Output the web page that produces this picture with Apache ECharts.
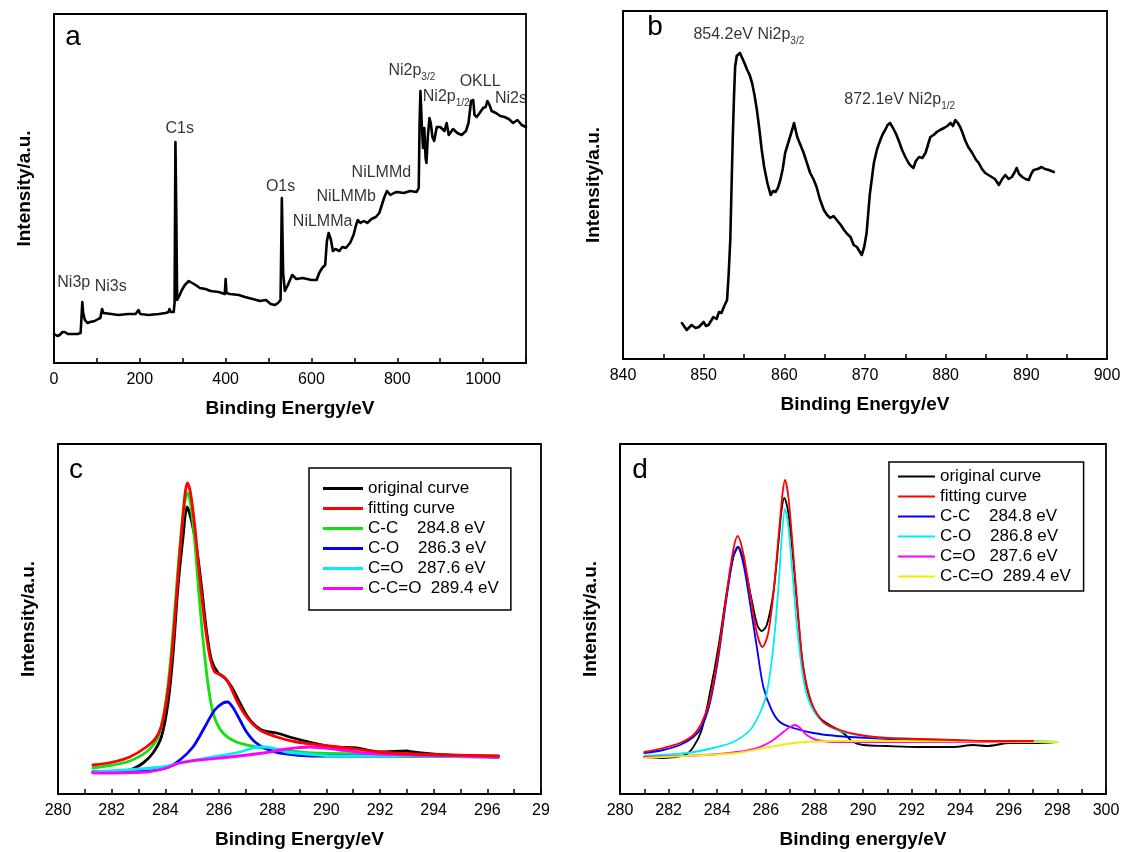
<!DOCTYPE html>
<html>
<head>
<meta charset="utf-8">
<script src="https://cdn.jsdelivr.net/npm/echarts@6/dist/echarts.min.js"></script>
<style>
  html, body { margin: 0; background: #fff; }
  #chart { width: 1122px; height: 852px; }
</style>
</head>
<body>
<div id="chart"></div>
<script>
const FONT = '"Liberation Sans", Arial, Helvetica, sans-serif';

// a: XPS survey, [binding energy eV, intensity a.u.]
const surveySpectrum = [
  [0,29],[8,27],[13,28],[20,31],[25,31],[32,29],[41,29],[55,29],[62,30],[64,45],[66,61],[68,50],[72,43],
  [78,40],[84,41],[95,42],[103,44],[108,45],[112,54],[115,50],[119,48],[134,49],[150,48],[173,49],[190,49],
  [197,53],[201,49],[220,48],[244,49],[260,50],[267,51],[269,54],[272,51],[279,51],[281,60],[283,221],
  [285,150],[287,63],[289,65],[293,68],[298,73],[305,78],[314,82],[322,80],[330,78],[340,75],[353,74],
  [365,72],[384,71],[398,69],[400,84],[402,70],[410,69],[431,68],[445,66],[463,64],[480,62],[494,63],
  [505,59],[515,58],[522,60],[525,61],[528,63],[531,165],[534,90],[538,72],[545,78],[555,88],[565,84],
  [580,85],[600,83],[612,83],[618,90],[625,95],[632,98],[636,122],[640,130],[645,124],[650,112],[656,114],
  [665,112],[672,116],[680,115],[690,120],[698,128],[704,138],[708,143],[714,140],[722,142],[730,140],
  [740,144],[750,146],[758,150],[764,158],[770,166],[776,172],[784,168],[792,170],[800,171],[815,170],
  [830,172],[845,171],[850,175],[852,240],[854,272],[857,240],[860,215],[863,235],[866,205],[868,200],
  [871,225],[875,245],[878,240],[882,226],[886,222],[892,236],[900,236],[910,232],[915,240],[920,228],
  [930,234],[940,230],[950,228],[960,232],[966,240],[972,262],[977,263],[980,248],[985,246],[992,250],
  [1000,255],[1006,256],[1010,262],[1015,258],[1020,252],[1030,250],[1040,247],[1050,246],[1060,244],
  [1070,240],[1080,243],[1090,238],[1100,236]
];
const surveyLabels = [
  ['Ni3p', 46, 80], ['Ni3s', 132, 76], ['C1s', 293, 234], ['O1s', 528, 176],
  ['NiLMMa', 626, 141], ['NiLMMb', 681, 166], ['NiLMMd', 763, 190],
  ['Ni2p_3/2', 834, 292], ['Ni2p_1/2', 914, 266], ['OKLL', 993, 281], ['Ni2s', 1065, 264]
];

// b: Ni 2p
const ni2pSpectrum = [
  [847.3,36],[847.9,29],[848.5,34],[849.0,31],[849.4,32],[850.0,37],[850.3,33],[850.6,34],[851.2,42],
  [851.6,40],[851.9,47],[852.2,46],[852.5,52],[852.9,59],[853.1,85],[853.3,119],[853.45,170],[853.6,219],
  [853.75,260],[853.9,292],[854.1,303],[854.3,305],[854.5,306],[854.7,304],[855.0,297],[855.4,289],
  [855.7,284],[856.0,276],[856.3,264],[856.6,249],[856.9,230],[857.2,209],[857.5,192],[857.9,176],
  [858.3,164],[858.6,168],[858.9,167],[859.2,171],[859.5,179],[859.8,190],[860.1,206],[860.4,214],
  [860.7,222],[861.0,230],[861.2,236],[861.4,229],[861.6,222],[862.0,214],[862.4,206],[862.8,196],
  [863.2,186],[863.6,180],[864.0,172],[864.4,160],[864.9,149],[865.3,144],[865.7,141],[866.1,143],
  [866.5,139],[867.0,134],[867.4,129],[867.8,125],[868.2,122],[868.6,114],[869.0,112],[869.3,108],
  [869.6,104],[869.9,112],[870.2,126],[870.6,165],[871.1,196],[871.5,210],[871.9,219],[872.2,225],
  [872.5,229],[872.8,234],[873.1,236],[873.4,232],[873.8,226],[874.2,218],[874.6,209],[875.0,202],
  [875.4,196],[875.7,193],[876.0,191],[876.3,198],[876.7,202],[877.1,201],[877.5,206],[877.8,214],
  [878.1,222],[878.5,224],[878.9,227],[879.3,229],[879.8,231],[880.2,233],[880.6,236],[880.9,233],
  [881.2,239],[881.5,236],[881.8,232],[882.1,226],[882.4,219],[882.8,212],[883.3,206],[883.7,200],
  [884.1,196],[884.5,190],[884.9,186],[885.3,184],[885.7,182],[886.1,180],[886.6,174],[887.0,180],
  [887.4,184],[887.8,180],[888.2,182],[888.5,186],[888.8,191],[889.1,185],[889.5,182],[889.9,180],
  [890.3,179],[890.6,185],[890.9,189],[891.4,190],[891.9,192],[892.3,190],[892.8,189],[893.4,187]
];
const ni2pLabels = [
  ['854.2eV Ni2p_3/2', 855.6, 324],
  ['872.1eV Ni2p_1/2', 874.3, 259]
];

// c: C 1s fit
const c1sNames = ['original curve', 'fitting curve', 'C-C    284.8 eV', 'C-O    286.3 eV', 'C=O   287.6 eV', 'C-C=O  289.4 eV'];
const c1sColors = ['#000000', '#ff0000', '#11e011', '#0000ff', '#00eef0', '#ff00ff'];
const c1sOriginal = [
  [281.3,22],[282.0,22],[282.67,24],[283.17,31],[283.54,41],[283.85,57],[284.10,91],[284.29,141],
  [284.47,207],[284.66,257],[284.81,287],[284.97,274],[285.16,247],[285.35,207],[285.53,164],[285.72,134],
  [285.97,121],[286.22,116],[286.47,107],[286.78,91],[287.15,74],[287.59,64],[288.15,61],[288.77,56],
  [289.51,51],[290.26,47],[291.13,46],[292.0,42],[293.0,43],[293.24,42],[294.49,39],[295.73,38],[296.41,37]
];
const c1sFit = [
  [281.3,29],[282.05,32],[282.67,37],[283.29,47],[283.67,57],[283.91,74],[284.16,117],[284.35,174],
  [284.54,241],[284.72,297],[284.82,311],[284.94,301],[285.10,267],[285.28,217],[285.47,171],[285.66,137],
  [285.84,122],[286.09,119],[286.34,112],[286.65,94],[287.03,77],[287.52,64],[288.15,57],[288.89,52],
  [289.76,49],[290.76,46],[292.0,42],[293.24,40],[294.49,39],[296.41,38]
];
const c1sCC = [
  [281.3,26],[282.05,29],[282.67,33],[283.29,42],[283.73,57],[283.97,84],[284.16,124],[284.35,184],
  [284.54,247],[284.72,291],[284.82,301],[284.94,291],[285.10,251],[285.28,191],[285.47,137],[285.66,97],
  [285.84,76],[286.15,61],[286.65,52],[287.40,47],[288.27,44],[289.51,41],[291.38,40],[293.24,39],[296.41,38]
];
const c1sCO = [
  [281.3,22],[283.29,23],[284.04,26],[284.54,34],[285.03,47],[285.47,67],[285.84,84],[286.15,91],
  [286.32,92],[286.53,86],[286.78,74],[287.03,62],[287.34,52],[287.77,45],[288.27,41],[289.51,38],
  [292.0,38],[296.41,37]
];
const c1sCdO = [
  [281.3,22],[283.91,27],[284.54,31],[285.78,37],[286.78,42],[287.27,46],[287.65,47],[288.02,46],
  [288.52,42],[289.26,40],[290.26,38],[293.24,38],[296.41,37]
];
const c1sCCdO = [
  [281.3,21],[283.29,22],[284.04,26],[284.54,31],[285.28,34],[286.40,37],[287.65,41],[288.52,45],
  [289.39,47],[290.26,45],[291.38,41],[293.24,39],[296.41,37]
];

// d: C 1s fit, second sample
const c1sBNames = ['original curve ', 'fitting curve ', 'C-C    284.8 eV ', 'C-O    286.8 eV', 'C=O   287.6 eV ', 'C-C=O  289.4 eV '];
const c1sBColors = ['#000000', '#ff0000', '#0000ff', '#00eef0', '#ff00ff', '#eeee00'];
const c1sBOriginal = [
  [281.0,37],[281.78,36],[282.67,39],[283.02,47],[283.36,64],[283.70,101],[284.05,147],[284.39,201],
  [284.66,237],[284.87,247],[285.14,227],[285.42,194],[285.65,169],[285.83,163],[286.04,169],[286.31,201],
  [286.52,251],[286.65,284],[286.76,296],[286.93,281],[287.13,234],[287.34,174],[287.54,127],[287.82,94],
  [288.23,76],[288.78,67],[289.19,61],[289.60,52],[290.01,49],[290.98,48],[292.35,47],[293.72,47],
  [294.54,49],[295.09,48],[296.05,51],[297.0,51],[297.97,52]
];
const c1sBFit = [
  [281.0,42],[281.78,46],[282.47,51],[283.02,59],[283.36,71],[283.70,94],[284.05,141],[284.39,201],
  [284.66,244],[284.84,258],[285.07,241],[285.35,201],[285.63,161],[285.86,147],[286.10,161],[286.34,207],
  [286.56,267],[286.69,301],[286.79,314],[286.93,297],[287.13,241],[287.34,177],[287.54,127],[287.89,91],
  [288.37,72],[289.05,64],[289.88,59],[290.98,56],[292.35,55],[293.72,54],[295.09,53],[297.0,53]
];
const c1sBCC = [
  [281.0,41],[281.78,44],[282.47,49],[283.02,57],[283.36,67],[283.70,91],[284.05,137],[284.39,197],
  [284.66,237],[284.84,247],[285.07,231],[285.35,191],[285.63,147],[285.90,107],[286.24,84],[286.58,72],
  [287.13,66],[287.95,61],[288.92,58],[290.29,56],[292.35,54],[295.09,53],[297.0,52]
];
const c1sBCO = [
  [281.0,38],[282.74,41],[283.84,46],[284.66,52],[285.35,64],[285.76,81],[286.04,101],[286.31,147],
  [286.52,207],[286.65,254],[286.79,285],[286.93,267],[287.13,211],[287.34,154],[287.61,107],[287.95,84],
  [288.50,69],[289.33,61],[290.42,57],[292.35,55],[295.09,53],[297.0,53],[298.0,52]
];
const c1sBCdO = [
  [281.0,37],[283.43,39],[284.80,42],[285.76,47],[286.31,54],[286.72,62],[287.0,67],[287.20,69],
  [287.41,66],[287.68,59],[288.09,54],[288.92,52],[290.98,52],[298.0,52]
];
const c1sBCCdO = [
  [281.0,36],[283.43,39],[284.80,41],[286.17,47],[287.13,51],[287.68,52],[288.92,53],[290.98,53],[298.0,52]
];

// layout, one entry per panel
const panels = [
  {left: 54, top: 14, width: 472, height: 349, min: 0, max: 1100, step: 200, xName: 'Binding Energy/eV', letter: 'a', lx: 73, ly: 37},
  {left: 623, top: 11, width: 484, height: 348, min: 840, max: 900, step: 10, xName: 'Binding Energy/eV', letter: 'b', lx: 655, ly: 27},
  {left: 58, top: 444, width: 483, height: 350, min: 280, max: 298, step: 2, xName: 'Binding Energy/eV', letter: 'c', lx: 76, ly: 470},
  {left: 620, top: 444, width: 486, height: 350, min: 280, max: 300, step: 2, xName: 'Binding energy/eV', letter: 'd', lx: 640, ly: 470}
];

const chart = echarts.init(document.getElementById('chart'), null, {renderer: 'canvas'});

const grids = panels.map(p => ({
  left: p.left, top: p.top, width: p.width, height: p.height,
  show: true, borderColor: '#000', borderWidth: 1.8, backgroundColor: 'transparent',
  containLabel: false, outerBoundsMode: 'none'
}));

const xAxes = panels.map((p, i) => ({
  type: 'value', gridIndex: i, min: p.min, max: p.max, interval: p.step,
  axisLine: {show: true, onZero: false, lineStyle: {color: '#000', width: 2}},
  axisTick: {show: true, inside: true, length: 5, lineStyle: {color: '#000', width: 1.5}},
  minorTick: {show: true, splitNumber: 2, length: 5, lineStyle: {color: '#000', width: 1.5}},
  splitLine: {show: false},
  minorSplitLine: {show: false},
  axisLabel: {
    color: '#000', fontSize: 16, fontFamily: FONT, margin: 9,
    showMaxLabel: p.max % p.step === 0,
    formatter: v => (i === 2 && v === 298) ? '29' : String(v)
  },
  name: p.xName, nameLocation: 'middle', nameGap: 36,
  nameTextStyle: {color: '#000', fontSize: 19, fontWeight: 'bold', fontFamily: FONT}
}));

const yAxes = panels.map((p, i) => ({
  type: 'value', gridIndex: i, min: 0, max: p.height,
  axisLine: {show: true, onZero: false, lineStyle: {color: '#000', width: 2}},
  axisTick: {show: false}, axisLabel: {show: false}, splitLine: {show: false},
  name: 'Intensity/a.u.', nameLocation: 'middle', nameGap: 20,
  nameTextStyle: {color: '#000', fontSize: 19, fontWeight: 'bold', fontFamily: FONT}
}));

function line(name, data, gi, color, width, smooth) {
  return {
    name, type: 'line', xAxisIndex: gi, yAxisIndex: gi, data,
    showSymbol: false, symbol: 'none', smooth: smooth ? 0.3 : false,
    lineStyle: {color, width, join: 'round', cap: 'round'}, itemStyle: {color},
    animation: false, silent: true
  };
}

function labels(list, gi) {
  return {
    type: 'scatter', xAxisIndex: gi, yAxisIndex: gi,
    data: list.map(d => [d[1], d[2], d[0]]),
    symbolSize: 1, itemStyle: {color: 'rgba(0,0,0,0)'},
    animation: false, silent: true,
    label: {
      show: true, position: 'inside', color: '#000', fontSize: 16, fontFamily: FONT, lineHeight: 22,
      formatter: p => p.data[2].replace(/_(.+)$/, '{s|$1}'),
      rich: {s: {fontSize: 10, lineHeight: 22, verticalAlign: 'bottom', color: '#000', fontFamily: FONT}}
    }
  };
}

const cSets = [c1sOriginal, c1sFit, c1sCC, c1sCO, c1sCdO, c1sCCdO];
const dSets = [c1sBOriginal, c1sBFit, c1sBCC, c1sBCO, c1sBCdO, c1sBCCdO];
const drawOrder = [0, 2, 3, 4, 5, 1];   // fitting curve on top

const series = [
  line('survey', surveySpectrum, 0, '#000', 2.6, false),
  labels(surveyLabels, 0),
  line('ni2p', ni2pSpectrum, 1, '#000', 2.6, false),
  labels(ni2pLabels, 1),
  ...drawOrder.map(k => line(c1sNames[k], cSets[k], 2, c1sColors[k], 2.8, true)),
  ...drawOrder.map(k => line(c1sBNames[k], dSets[k], 3, c1sBColors[k], 1.8, true))
];

const legendBase = {
  orient: 'vertical', icon: 'rect', selectedMode: false,
  borderColor: '#000', borderWidth: 1.5, backgroundColor: '#fff',
  textStyle: {color: '#000', fontSize: 17, fontFamily: FONT}
};

const option = {
  backgroundColor: '#fff',
  animation: false,
  grid: grids,
  xAxis: xAxes,
  yAxis: yAxes,
  legend: [
    Object.assign({}, legendBase, {
      left: 309, top: 468, data: c1sNames, itemWidth: 40, itemHeight: 3, itemGap: 3,
      padding: [12, 12, 13, 14]
    }),
    Object.assign({}, legendBase, {
      left: 889, top: 462, data: c1sBNames, itemWidth: 37, itemHeight: 2, itemGap: 3,
      padding: [6, 8, 6, 9]
    })
  ],
  graphic: panels.map(p => ({
    type: 'text', x: p.lx, y: p.ly, silent: true,
    style: {text: p.letter, font: '28px ' + FONT, fill: '#000', align: 'center', verticalAlign: 'middle'}
  })),
  series
};

chart.setOption(option);
</script>
</body>
</html>
